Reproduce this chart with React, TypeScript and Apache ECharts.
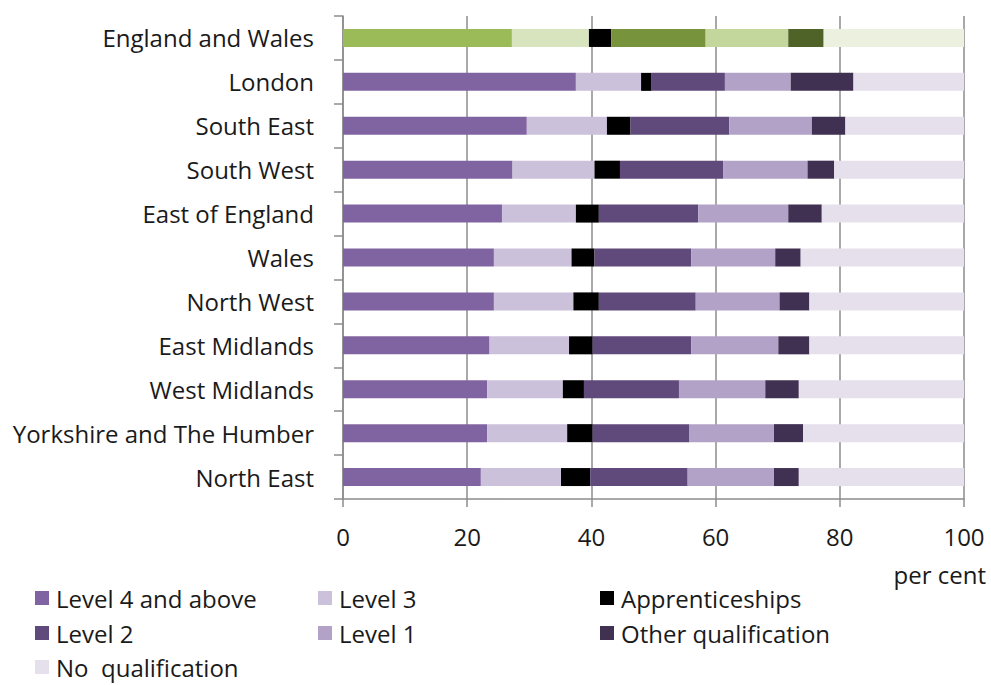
import React, { useEffect, useRef } from "react";
import * as echarts from "echarts";

const categories = [
  "England and Wales",
  "London",
  "South East",
  "South West",
  "East of England",
  "Wales",
  "North West",
  "East Midlands",
  "West Midlands",
  "Yorkshire and The Humber",
  "North East",
];
const level4 = [27.2, 37.5, 29.6, 27.3, 25.6, 24.3, 24.3, 23.6, 23.2, 23.2, 22.2];
const level3 = [12.4, 10.5, 12.9, 13.2, 11.9, 12.5, 12.8, 12.8, 12.2, 12.9, 12.9];
const apprenticeships = [3.6, 1.7, 3.8, 4.1, 3.7, 3.7, 4.1, 3.8, 3.4, 4.1, 4.7];
const level2 = [15.2, 11.8, 15.9, 16.6, 16.0, 15.6, 15.6, 15.9, 15.3, 15.6, 15.7];
const level1 = [13.3, 10.6, 13.3, 13.6, 14.5, 13.5, 13.5, 14.0, 13.9, 13.6, 13.9];
const otherQual = [5.7, 10.1, 5.4, 4.3, 5.4, 4.1, 4.8, 5.0, 5.4, 4.7, 4.0];
const noQual = [22.6, 17.8, 19.1, 20.9, 22.9, 26.3, 24.9, 24.9, 26.6, 25.9, 26.6];

const seriesNames = [
  "Level 4 and above",
  "Level 3",
  "Apprenticeships",
  "Level 2",
  "Level 1",
  "Other qualification",
  "No  qualification",
];
const seriesValues = [level4, level3, apprenticeships, level2, level1, otherQual, noQual];
const purple = ["#8064A2", "#CCC1DA", "#000000", "#604A7B", "#B3A2C7", "#403152", "#E5E0EC"];
const green = ["#9BBB59", "#D7E4BD", "#000000", "#77933C", "#C3D69B", "#4F6228", "#EBF1DE"];
const xTicks = [0, 20, 40, 60, 80, 100];

// legend grid: column (0..2) and row (0..2) of each series
const legendCol = [0, 1, 2, 0, 1, 2, 0];
const legendRow = [0, 0, 0, 1, 1, 1, 2];
const colLeft = [35, 318, 600];
const rowTop = [586, 621, 655];

const FONT = "Open Sans";
const TEXT = "#1a1a1a";
const FS = 24;

export default function App() {
  const ref = useRef<HTMLDivElement>(null);
  useEffect(() => {
    if (!ref.current) return;
    const chart = echarts.init(ref.current, null, { renderer: "svg" });
    const series = seriesNames.map((name, k) => ({
      name,
      type: "bar",
      stack: "total",
      barWidth: 18,
      itemStyle: { color: purple[k] },
      data: seriesValues[k].map((v, i) =>
        i === 0 ? { value: v, itemStyle: { color: green[k] } } : v
      ),
    }));
    const legends = seriesNames.map((name, k) => ({
      orient: "horizontal",
      left: colLeft[legendCol[k]],
      top: rowTop[legendRow[k]],
      icon: "rect",
      itemWidth: 14,
      itemHeight: 14,
      padding: 0,
      textStyle: {
        fontFamily: FONT,
        fontSize: FS,
        lineHeight: 24,
        color: TEXT,
        padding: [0, 0, 0, 2],
      },
      selectedMode: false,
      data: [name],
    }));
    chart.setOption({
      animation: false,
      textStyle: { fontFamily: FONT },
      grid: { left: 343, right: 27, top: 16, bottom: 186, containLabel: false },
      legend: legends,
      xAxis: {
        type: "value",
        min: xTicks[0],
        max: xTicks[xTicks.length - 1],
        interval: 20,
        axisLine: { show: true, lineStyle: { color: "#8c8c8c", width: 1.5 } },
        axisTick: { show: true, length: 8, lineStyle: { color: "#8c8c8c", width: 1.5 } },
        splitLine: { show: true, lineStyle: { color: "#8c8c8c", width: 1.5 } },
        axisLabel: { fontFamily: FONT, fontSize: FS, color: TEXT, margin: 25 },
      },
      yAxis: {
        type: "category",
        inverse: true,
        data: categories,
        axisLine: { show: true, lineStyle: { color: "#8c8c8c", width: 1.5 } },
        axisTick: { show: true, length: 9, lineStyle: { color: "#8c8c8c", width: 1.5 } },
        axisLabel: { fontFamily: FONT, fontSize: FS, color: TEXT, margin: 29 },
      },
      graphic: [
        {
          type: "text",
          right: 5,
          top: 562,
          style: { text: "per cent", fontFamily: FONT, fontSize: FS, fill: TEXT },
        },
      ],
      series,
    });
    return () => chart.dispose();
  }, []);
  return (
    <div
      ref={ref}
      style={{ position: "absolute", left: 0, top: 0, width: 991, height: 685, background: "#fff" }}
    />
  );
}
